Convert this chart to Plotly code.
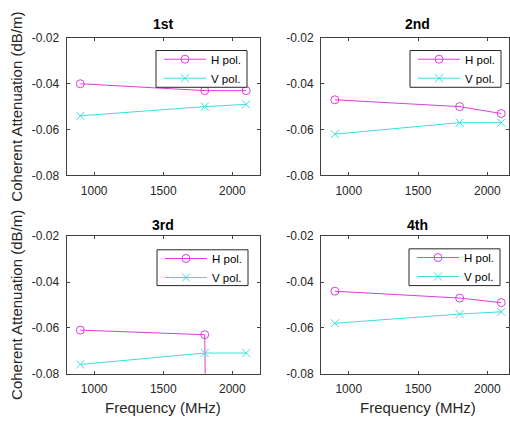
import plotly.graph_objects as go

# ---------------- data ----------------
freq_mhz = [900, 1800, 2100]
panel_titles = ["1st", "2nd", "3rd", "4th"]

h_pol_1st = [-0.040, -0.043, -0.043]
v_pol_1st = [-0.054, -0.050, -0.049]
h_pol_2nd = [-0.047, -0.050, -0.053]
v_pol_2nd = [-0.062, -0.057, -0.057]
h_pol_3rd = [-0.061, -0.063, -1.5]   # last point far below the axis
v_pol_3rd = [-0.076, -0.071, -0.071]
h_pol_4th = [-0.044, -0.047, -0.049]
v_pol_4th = [-0.058, -0.054, -0.053]

x_tick_vals = [1000, 1500, 2000]
y_tick_vals = [-0.08, -0.06, -0.04, -0.02]
y_tick_text = ["-0.08", "-0.06", "-0.04", "-0.02"]

series_names = ["H pol.", "V pol."]
x_title = "Frequency (MHz)"
y_title = "Coherent Attenuation (dB/m)"

# ---------------- styling / layout ----------------
W, H = 510, 429
FONT = "Liberation Sans, Arial, sans-serif"
MAG = "#dd3ddd"
CYA = "#3ddddd"
AX = "#404040"

def px_x(p):
    return p / W

def px_y(p):
    return 1 - p / H

# pixel boxes (left, right, top, bottom)
boxes = [
    (66.5, 260, 32, 174),
    (321, 509, 32, 174),
    (66.5, 260, 237, 379),
    (321, 509, 237, 379),
]
x_ranges = [[800, 2200], [800, 2156], [800, 2200], [800, 2156]]
# legend frame boxes in pixels (left, right, top, bottom)
legend_boxes = [(156, 247, 45, 83), (410, 501, 45, 83), (157, 248, 251, 288), (409, 500, 250, 288)]
title_x = [163, 417.5, 163, 417.5]
title_y = [18, 18, 225, 225]

panels = [
    (h_pol_1st, v_pol_1st),
    (h_pol_2nd, v_pol_2nd),
    (h_pol_3rd, v_pol_3rd),
    (h_pol_4th, v_pol_4th),
]

fig = go.Figure()
layout = dict(
    width=W, height=H,
    margin=dict(l=0, r=0, t=0, b=0),
    paper_bgcolor="white",
    plot_bgcolor="white",
    font=dict(family=FONT, color="#262626"),
    annotations=[],
    shapes=[],
)

for i, (hv, vv) in enumerate(panels):
    k = "" if i == 0 else str(i + 1)
    leg = "legend" + k
    fig.add_trace(go.Scatter(
        x=freq_mhz, y=hv, mode="lines+markers", name=series_names[0],
        xaxis="x" + k, yaxis="y" + k, legend=leg,
        line=dict(color=MAG, width=1),
        marker=dict(symbol="circle-open", size=8, color=MAG, line=dict(width=1, color=MAG)),
    ))
    fig.add_trace(go.Scatter(
        x=freq_mhz, y=vv, mode="lines+markers", name=series_names[1],
        xaxis="x" + k, yaxis="y" + k, legend=leg,
        line=dict(color=CYA, width=1),
        marker=dict(symbol="x-thin-open", size=8, color=CYA, line=dict(width=1, color=CYA)),
    ))
    l, r, t, b = boxes[i]
    common = dict(
        showline=True, linecolor=AX, linewidth=1, mirror="ticks",
        ticks="inside", ticklen=3, tickcolor=AX, showgrid=False, zeroline=False,
        tickfont=dict(size=12, family=FONT, color="#262626"),
    )
    layout["xaxis" + k] = dict(
        domain=[px_x(l), px_x(r)], range=x_ranges[i], anchor="y" + k,
        tickvals=x_tick_vals, ticklabelstandoff=4, **common,
    )
    layout["yaxis" + k] = dict(
        domain=[px_y(b), px_y(t)], range=[-0.08, -0.02], anchor="x" + k,
        tickvals=y_tick_vals, ticktext=y_tick_text, ticklabelstandoff=4, **common,
    )
    bl, br, bt, bb = legend_boxes[i]
    # legend frame (drawn above the data, legend entries drawn on top of it)
    layout["shapes"].append(dict(
        type="rect", xref="paper", yref="paper",
        x0=px_x(bl), x1=px_x(br), y0=px_y(bb), y1=px_y(bt),
        line=dict(color="#262626", width=1), fillcolor="white", layer="above",
    ))
    layout[leg] = dict(
        x=px_x(bl + 3), y=px_y(bt - 6), xanchor="left", yanchor="top",
        xref="paper", yref="paper",
        borderwidth=0, bgcolor="rgba(0,0,0,0)",
        font=dict(size=11.5, family=FONT, color="black"),
        tracegroupgap=0, itemwidth=42,
    )
    layout["annotations"].append(dict(
        text="<b>" + panel_titles[i] + "</b>", x=px_x(title_x[i]), y=px_y(title_y[i]),
        xref="paper", yref="paper", showarrow=False, xanchor="center", yanchor="middle",
        font=dict(size=14, family=FONT, color="black"),
    ))

# axis titles
for (l, r, t, b) in [boxes[0], boxes[2]]:
    layout["annotations"].append(dict(
        text=y_title, x=px_x(17), y=px_y((t + b) / 2), xref="paper", yref="paper",
        showarrow=False, textangle=-90, xanchor="center", yanchor="middle",
        font=dict(size=15, family=FONT, color="#262626"),
    ))
for xc in [163, 417.5]:
    layout["annotations"].append(dict(
        text=x_title, x=px_x(xc), y=px_y(414), xref="paper", yref="paper",
        showarrow=False, xanchor="center", yanchor="middle",
        font=dict(size=15, family=FONT, color="#262626"),
    ))

fig.update_layout(**layout)
fig.write_html(
    "out.html",
    config={"displayModeBar": False},
    post_script="document.body.style.margin='0';document.body.style.overflow='hidden';",
)
